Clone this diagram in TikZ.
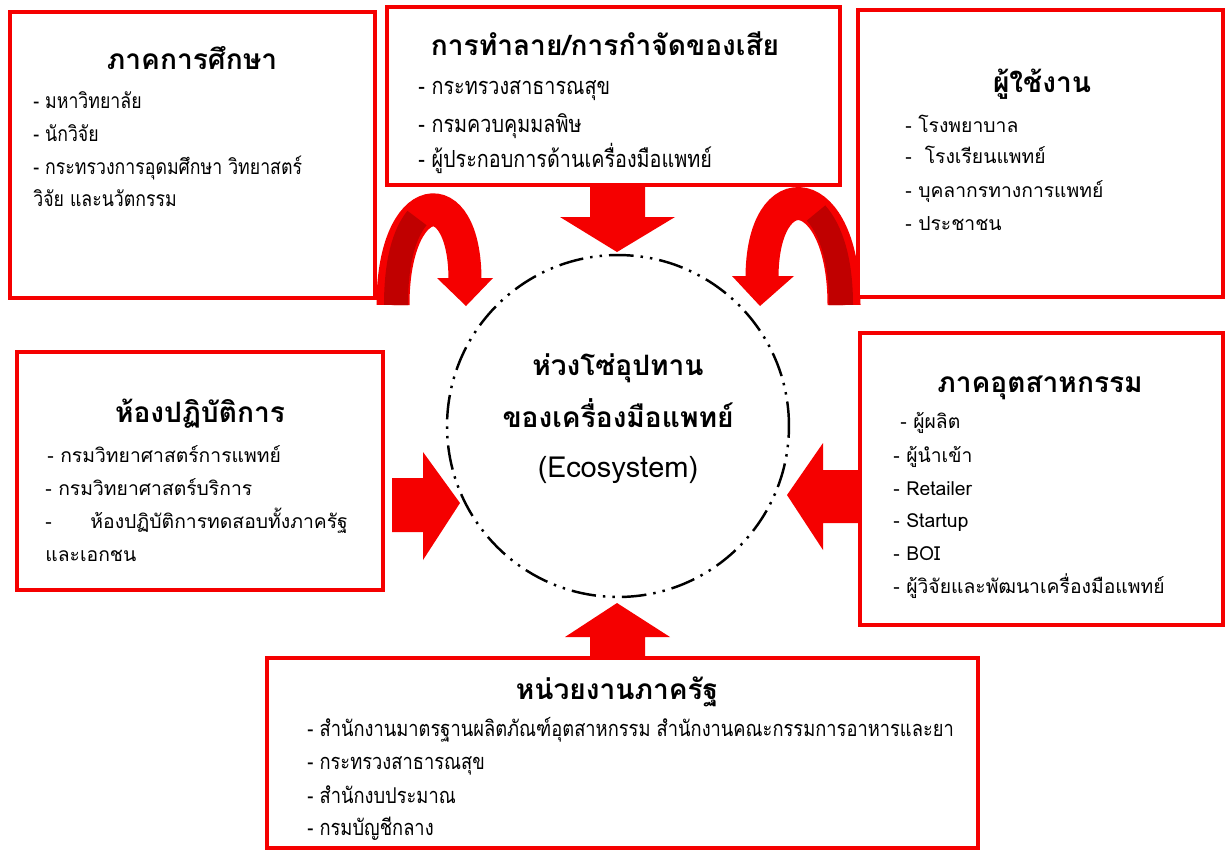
\documentclass[tikz,border=0pt]{standalone}
\usepackage{fontspec}
\setmainfont{Loma}[Script=Thai]
\newfontfamily\thinthai{Loma}[Script=Thai,FakeStretch=0.84]
\usetikzlibrary{arrows.meta,calc,positioning}
\definecolor{boxred}{RGB}{245,0,0}
\definecolor{darkred}{RGB}{192,0,0}
\tikzset{
  frame/.style={draw=boxred, line width=2.6pt, fill=white, rectangle},
  title/.style={font=\bfseries\fontsize{16}{19}\selectfont, text height=12pt, text depth=4pt, inner sep=0pt},
  item/.style={anchor=west, font=\fontsize{11}{13}\selectfont, text height=9pt, text depth=3pt, inner sep=0pt},
  thinitem/.style={item, font=\thinthai\fontsize{12}{14}\selectfont},
  disitem/.style={item, font=\thinthai\fontsize{13.4}{15}\selectfont},
  govitem/.style={item, font=\thinthai\fontsize{12.4}{14}\selectfont},
  block/.style={fill=boxred}
}

\begin{document}
\begin{tikzpicture}[x=0.02cm, y=-0.02cm]
        \useasboundingbox[fill=white] (0,0) rectangle (1226,850);
        % block arrows towards the hub
        \fill[block] (590,180) -- (590,217) -- (560,217) -- (617,252) -- (675,217) -- (645,217) -- (645,180) -- cycle;
        \fill[block] (590,662) -- (590,637) -- (565,637) -- (617,603) -- (670,637) -- (645,637) -- (645,662) -- cycle;
        \fill[block] (392,478) -- (423,478) -- (423,452) -- (460,503) -- (423,560) -- (423,532) -- (392,532) -- cycle;
        \fill[block] (864,470) -- (823,470) -- (823,443) -- (787,495) -- (823,550) -- (823,523) -- (864,523) -- cycle;
        % curved arrows
        \draw[boxred, line width=0.66cm] (393,305) .. controls (393,188) and (465,178) .. (465,280);
        \draw[darkred, line width=0.48cm] (396,305) .. controls (396,262) and (404,234) .. (417,218);
        \fill[block] (437,278) -- (493,278) -- (466,306) -- cycle;
        \draw[boxred, line width=0.66cm] (844,305) .. controls (844,180) and (762,170) .. (762,278);
        \draw[darkred, line width=0.48cm] (841,305) .. controls (841,260) and (831,230) .. (816,213);
        \fill[block] (732,276) -- (794,276) -- (760,306) -- cycle;
        % hub
        \node[circle, draw, line width=1.4pt, minimum size=6.84cm, dash pattern=on 14pt off 4pt on 1.4pt off 4pt on 1.4pt off 4pt] (hub) at (618,426) {};
        \node[title] (hub1) at (618,368) {ห่วงโซ่อุปทาน};
        \node[title] (hub2) at (618,420) {ของเครื่องมือแพทย์};
        \node[title, font=\fontsize{16.5}{19}\selectfont] (hub3) at (618,470) {(Ecosystem)};
        % frames
        \node[frame, minimum width=7.3cm, minimum height=5.72cm] (edu) at (192.5,155) {};
        \node[frame, minimum width=9.06cm, minimum height=3.56cm] (dis) at (613.5,96) {};
        \node[frame, minimum width=7.3cm, minimum height=5.74cm] (use) at (1040.5,153.5) {};
        \node[frame, minimum width=7.32cm, minimum height=4.76cm] (lab) at (200,471) {};
        \node[frame, minimum width=7.26cm, minimum height=5.84cm] (ind) at (1041.5,479) {};
        \node[frame, minimum width=14.22cm, minimum height=3.8cm] (gov) at (622.5,753) {};
        % education
        \node[title] (edut) at (192,62) {ภาคการศึกษา};
        \node[thinitem] (edu1) at (33,103) {- มหาวิทยาลัย};
        \node[thinitem] (edu2) at (33,136) {- นักวิจัย};
        \node[thinitem] (edu3) at (33,169) {- กระทรวงการอุดมศึกษา วิทยาสตร์};
        \node[thinitem] (edu4) at (33,201) {วิจัย และนวัตกรรม};
        % disposal
        \node[title] (dist) at (605,48) {การทำลาย/การกำจัดของเสีย};
        \node[disitem] (dis1) at (418,89) {- กระทรวงสาธารณสุข};
        \node[disitem] (dis2) at (418,127) {- กรมควบคุมมลพิษ};
        \node[disitem] (dis3) at (418,162) {- ผู้ประกอบการด้านเครื่องมือแพทย์};
        % users
        \node[title] (uset) at (1042,85) {ผู้ใช้งาน};
        \node[item] (use1) at (905,127) {- โรงพยาบาล};
        \node[item] (use2) at (905,158) {-\ \ โรงเรียนแพทย์};
        \node[item] (use3) at (905,192) {- บุคลากรทางการแพทย์};
        \node[item] (use4) at (905,225) {- ประชาชน};
        % laboratory
        \node[title] (labt) at (200,415) {ห้องปฏิบัติการ};
        \node[item] (lab1) at (47,457) {- กรมวิทยาศาสตร์การแพทย์};
        \node[item] (lab2) at (45,490) {- กรมวิทยาศาสตร์บริการ};
        \node[item] (lab3) at (45,523) {-\hspace{22pt}ห้องปฏิบัติการทดสอบทั้งภาครัฐ};
        \node[item] (lab4) at (45,556) {และเอกชน};
        % industry
        \node[title] (indt) at (1040,385) {ภาคอุตสาหกรรม};
        \node[item] (ind1) at (900,423) {- ผู้ผลิต};
        \node[item] (ind2) at (893,457) {- ผู้นำเข้า};
        \node[item] (ind3) at (893,490) {- Retailer};
        \node[item] (ind4) at (893,522) {- Startup};
        \node[item] (ind5) at (893,555) {- BOI};
        \node[item] (ind6) at (893,588) {- ผู้วิจัยและพัฒนาเครื่องมือแพทย์};
        % government
        \node[title] (govt) at (617,692) {หน่วยงานภาครัฐ};
        \node[govitem] (gov1) at (307,731) {- สำนักงานมาตรฐานผลิตภัณฑ์อุตสาหกรรม สำนักงานคณะกรรมการอาหารและยา};
        \node[govitem] (gov2) at (307,764) {- กระทรวงสาธารณสุข};
        \node[govitem] (gov3) at (307,798) {- สำนักงบประมาณ};
        \node[govitem] (gov4) at (307,830) {- กรมบัญชีกลาง};
        \end{tikzpicture}
\end{document}
